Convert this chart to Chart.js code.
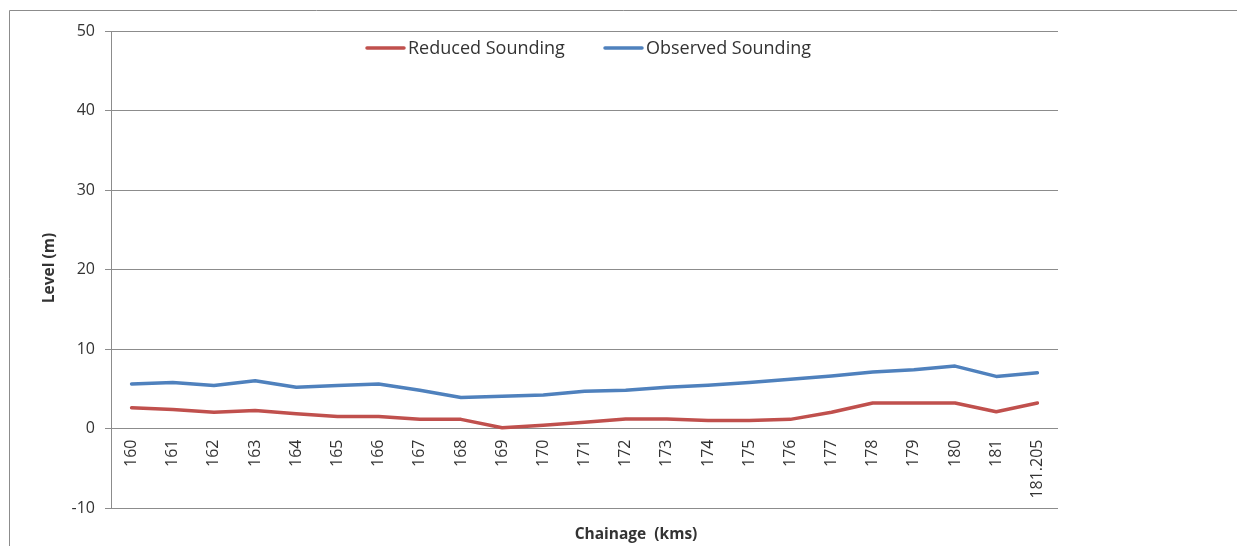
<!DOCTYPE html>
<html>
<head>
<meta charset="utf-8">
<script src="https://cdn.jsdelivr.net/npm/chart.js@4/dist/chart.umd.min.js"></script>
<style>
  html, body { margin: 0; padding: 0; background: #ffffff; }
  #wrap { width: 1237px; height: 546px; }
</style>
</head>
<body>
<div id="wrap"><canvas id="c" width="1237" height="546"></canvas></div>
<script>
// Chainage stations (km)
const chainage = ['160','161','162','163','164','165','166','167','168','169','170','171','172','173','174','175','176','177','178','179','180','181','181.205'];

// Reduced sounding level (m)
const reducedSounding = [2.6, 2.4, 2.05, 2.25, 1.85, 1.5, 1.5, 1.15, 1.15, 0.1, 0.4, 0.8, 1.2, 1.2, 1.0, 1.0, 1.15, 2.05, 3.2, 3.2, 3.2, 2.1, 3.2];

// Observed sounding level (m)
const observedSounding = [5.6, 5.8, 5.4, 6.0, 5.2, 5.4, 5.6, 4.8, 3.9, 4.05, 4.2, 4.7, 4.8, 5.2, 5.45, 5.8, 6.2, 6.6, 7.1, 7.4, 7.85, 6.55, 7.0];

// Level axis range and step
const levelMin = -10;
const levelMax = 50;
const levelStep = 10;

const FONT = "'Open Sans', 'Liberation Sans', sans-serif";
const GRID = '#8c8c8c';
const TEXT = '#333333';

// Outer frame of the chart
const framePlugin = {
  id: 'frame',
  beforeDraw(chart) {
    const ctx = chart.ctx;
    ctx.save();
    ctx.fillStyle = '#ffffff';
    ctx.fillRect(0, 0, chart.width, chart.height);
    ctx.strokeStyle = GRID;
    ctx.lineWidth = 1;
    ctx.beginPath();
    ctx.moveTo(9.5, chart.height);
    ctx.lineTo(9.5, 10.5);
    ctx.lineTo(chart.width, 10.5);
    ctx.stroke();
    ctx.restore();
  }
};

// Axis titles and an in-plot legend
const annotatePlugin = {
  id: 'annotate',
  afterDraw(chart) {
    const ctx = chart.ctx;
    ctx.save();
    ctx.fillStyle = TEXT;
    ctx.font = "bold 15.5px " + FONT;
    ctx.textAlign = 'center';
    ctx.textBaseline = 'middle';
    ctx.fillText('Chainage  (kms)', 636, 535);
    ctx.translate(50, 268);
    ctx.rotate(-Math.PI / 2);
    ctx.fillText('Level (m)', 0, 0);
    ctx.restore();

    // legend entries
    const starts = [365, 603];
    ctx.save();
    ctx.font = "18px " + FONT;
    ctx.textBaseline = 'middle';
    ctx.textAlign = 'left';
    chart.data.datasets.forEach((ds, i) => {
      const x = starts[i];
      const y = 48;
      ctx.strokeStyle = ds.borderColor;
      ctx.lineWidth = 3.5;
      ctx.lineCap = 'round';
      ctx.beginPath();
      ctx.moveTo(x + 2, y);
      ctx.lineTo(x + 39, y);
      ctx.stroke();
      ctx.fillStyle = TEXT;
      ctx.fillText(ds.label, x + 43, y + 1);
    });
    ctx.restore();
  }
};

new Chart(document.getElementById('c'), {
  type: 'line',
  data: {
    labels: chainage,
    datasets: [
      {
        label: 'Reduced Sounding',
        data: reducedSounding,
        borderColor: '#c0504d',
        backgroundColor: '#c0504d',
        borderWidth: 3.5,
        tension: 0,
        pointRadius: 0,
        borderJoinStyle: 'round',
        borderCapStyle: 'round'
      },
      {
        label: 'Observed Sounding',
        data: observedSounding,
        borderColor: '#4f81bd',
        backgroundColor: '#4f81bd',
        borderWidth: 3.5,
        tension: 0,
        pointRadius: 0,
        borderJoinStyle: 'round',
        borderCapStyle: 'round'
      }
    ]
  },
  options: {
    responsive: false,
    animation: false,
    devicePixelRatio: 1,
    layout: { padding: { top: 31, right: 179, bottom: 38, left: 0 } },
    plugins: {
      legend: { display: false },
      title: { display: false },
      tooltip: { enabled: false }
    },
    scales: {
      x: {
        type: 'category',
        offset: true,
        position: { y: 0 },
        grid: { display: false, drawTicks: false },
        border: { display: false },
        ticks: {
          autoSkip: false,
          minRotation: 90,
          maxRotation: 90,
          padding: 11,
          color: TEXT,
          font: { family: FONT, size: 16 }
        }
      },
      y: {
        min: levelMin,
        max: levelMax,
        afterFit(scale) { scale.width = 111; },
        grid: { color: GRID, lineWidth: 1, tickLength: 6, drawTicks: true },
        border: { display: true, color: GRID, width: 1 },
        ticks: {
          stepSize: levelStep,
          padding: 10,
          color: TEXT,
          font: { family: FONT, size: 16 }
        }
      }
    }
  },
  plugins: [framePlugin, annotatePlugin]
});
</script>
</body>
</html>
